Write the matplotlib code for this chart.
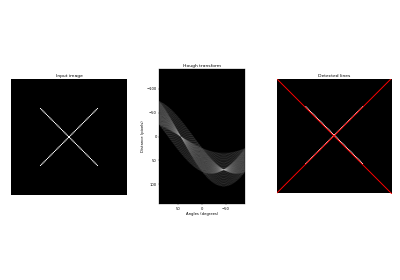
import numpy as np
import matplotlib
matplotlib.use("Agg")
import matplotlib.pyplot as plt
from matplotlib import cm

# --- data ---
image_size = 100
diag_idx = np.arange(25, 75)          # pixel indices of the two diagonal strokes
pixel_value = 255
peak_angles_deg = [-45.0, 45.0]       # detected line angles (degrees)
peak_dists = [0.0, 70.0]              # detected line distances (pixels)
titles = ["Input image", "Hough transform", "Detected lines"]

image = np.zeros((image_size, image_size))
image[diag_idx[::-1], diag_idx] = pixel_value
image[diag_idx, diag_idx] = pixel_value

# Hough line transform (straight-line accumulator)
theta = np.deg2rad(np.arange(-90, 90).astype(float))
offset = int(np.ceil(np.sqrt(image.shape[0] ** 2 + image.shape[1] ** 2)))
d = np.linspace(-offset, offset, 2 * offset + 1)
h = np.zeros((2 * offset + 1, theta.size))
ys, xs = np.nonzero(image)
cos_t, sin_t = np.cos(theta), np.sin(theta)
for y, x in zip(ys, xs):
    r = np.round(x * cos_t + y * sin_t).astype(int) + offset
    h[r, np.arange(theta.size)] += 1

DPI = 400 / 15.0
fig = plt.figure(figsize=(15, 10.5), dpi=DPI)
W, H = 400.0, 280.0
def box(l, t, r, b):
    return [l / W, (H - b) / H, (r - l) / W, (b - t) / H]

ax0 = fig.add_axes(box(11, 79, 127, 195))
ax1 = fig.add_axes(box(159, 69, 245, 204))
ax2 = fig.add_axes(box(277, 79, 392, 194))

ax0.imshow(image, cmap=cm.gray)
ax0.set_title(titles[0])
ax0.set_axis_off()

ax1.imshow(np.log(1 + h),
           extent=[np.rad2deg(theta[-1]), np.rad2deg(theta[0]), d[-1], d[0]],
           cmap=cm.gray, aspect=1 / 1.5)
ax1.set_title(titles[1])
ax1.set_xlabel("Angles (degrees)")
ax1.set_ylabel("Distance (pixels)")
ax1.axis("image")

ax2.imshow(image, cmap=cm.gray)
for ang_deg, dist in zip(peak_angles_deg, peak_dists):
    angle = np.deg2rad(ang_deg)
    y0 = (dist - 0 * np.cos(angle)) / np.sin(angle)
    y1 = (dist - image.shape[1] * np.cos(angle)) / np.sin(angle)
    ax2.plot((0, image.shape[1]), (y0, y1), "-r", lw=2.6)
ax2.set_xlim((0, image.shape[1]))
ax2.set_ylim((image.shape[0], 0))
ax2.set_axis_off()
ax2.set_title(titles[2])

fig.savefig("out.png", dpi=DPI)
